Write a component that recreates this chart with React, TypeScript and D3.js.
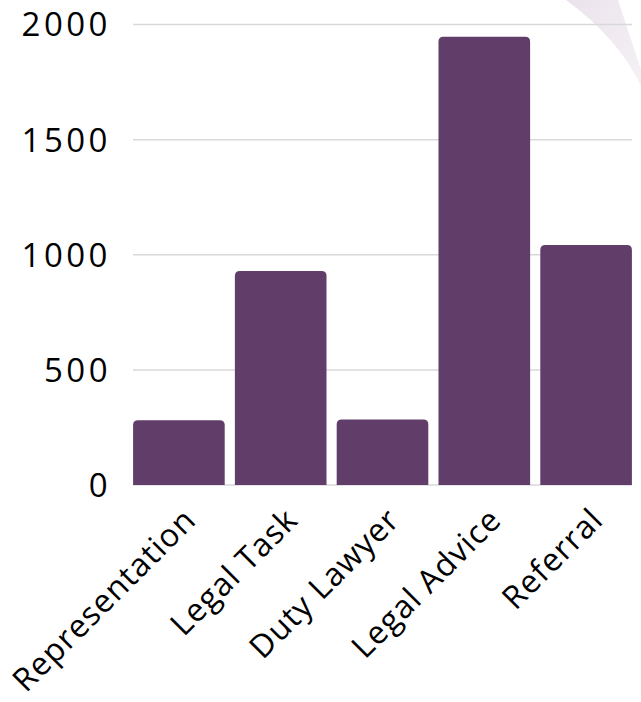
import React from "react";
import * as d3 from "d3";

const categories = ["Representation", "Legal Task", "Duty Lawyer", "Legal Advice", "Referral"];
const values = [281, 929, 284, 1947, 1042];
const yTicks = [0, 500, 1000, 1500, 2000];

const W = 641;
const H = 702;

export default function App() {
  const x = d3
    .scaleBand<string>()
    .domain(categories)
    .range([128, 637])
    .paddingInner(0.1)
    .paddingOuter(0.05);
  const y = d3.scaleLinear().domain([0, 2000]).range([485, 24.5]);
  const r = 5;
  const barPath = (cat: string, v: number) => {
    const x0 = x(cat)!;
    const w = x.bandwidth();
    const y0 = y(0);
    const y1 = y(v);
    const p = d3.path();
    p.moveTo(x0, y0);
    p.lineTo(x0, y1 + r);
    p.quadraticCurveTo(x0, y1, x0 + r, y1);
    p.lineTo(x0 + w - r, y1);
    p.quadraticCurveTo(x0 + w, y1, x0 + w, y1 + r);
    p.lineTo(x0 + w, y0);
    p.closePath();
    return p.toString();
  };
  const font = "'Open Sans', sans-serif";
  return (
    <svg
      width={W}
      height={H}
      style={{ position: "absolute", left: 0, top: 0, background: "#fff" }}
    >
      <defs>
        <linearGradient id="deco" x1="0" y1="0" x2="1" y2="1">
          <stop offset="0" stopColor="#ebe3ec" />
          <stop offset="1" stopColor="#f5f1f5" />
        </linearGradient>
      </defs>
      <path d="M566,0 L618,0 L641,70 L641,86 Q618,38 566,0 Z" fill="url(#deco)" />
      {yTicks.map((t) => (
        <g key={t}>
          <line x1={133} x2={632} y1={y(t)} y2={y(t)} stroke="#d9d9d9" strokeWidth={1.5} />
          <text
            x={111}
            y={y(t)}
            dy="0.36em"
            textAnchor="end"
            fontFamily={font}
            fontSize={33}
            letterSpacing={3.5}
            fill="#000"
          >
            {t}
          </text>
        </g>
      ))}
      {categories.map((c, i) => (
        <path key={c} d={barPath(c, values[i])} fill="#613d6a" />
      ))}
      {categories.map((c) => {
        const cx = x(c)! + x.bandwidth() / 2 + 3;
        const cy = 506;
        return (
          <text
            key={c + "l"}
            transform={`translate(${cx},${cy}) rotate(-45)`}
            textAnchor="end"
            dy="0.7em"
            fontFamily={font}
            fontSize={32}
            letterSpacing={1}
            fill="#000"
          >
            {c}
          </text>
        );
      })}
    </svg>
  );
}
